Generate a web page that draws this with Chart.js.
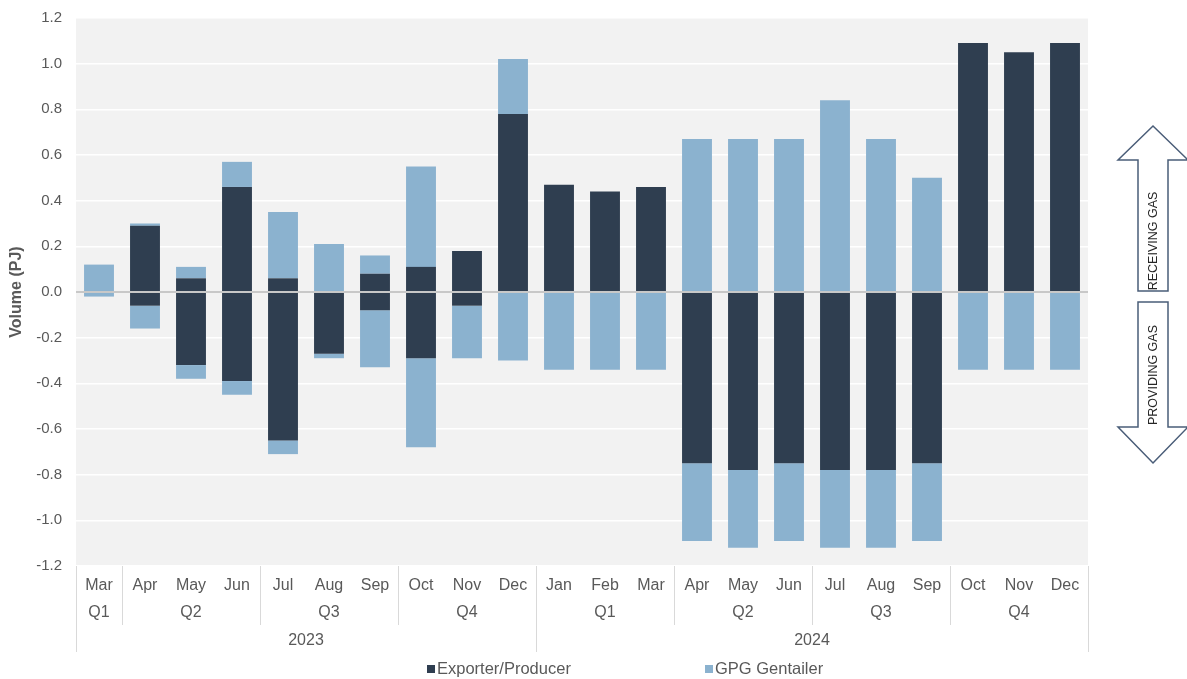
<!DOCTYPE html>
<html lang="en">
<head>
  <meta charset="UTF-8">
  <meta name="viewport" content="width=device-width, initial-scale=1.0">
  <title>Gas Volumes by Month</title>
  <script src="https://cdn.jsdelivr.net/npm/chart.js"></script>
  <style>
    html, body {
      margin: 0;
      padding: 0;
      background: #ffffff;
    }

    .chart-box {
      width: 1187px;
      height: 679px;
    }
  </style>
</head>
<body>
  <div class="chart-box">
    <canvas id="volumeChart"></canvas>
  </div>

  <script>
    // Monthly categories, grouped into quarters and years underneath
    var months = ['Mar', 'Apr', 'May', 'Jun', 'Jul', 'Aug', 'Sep', 'Oct', 'Nov', 'Dec',
                  'Jan', 'Feb', 'Mar', 'Apr', 'May', 'Jun', 'Jul', 'Aug', 'Sep', 'Oct', 'Nov', 'Dec'];
    var quarterLabels = ['Q1', 'Q2', 'Q3', 'Q4', 'Q1', 'Q2', 'Q3', 'Q4'];
    var quarterSpans = [1, 3, 3, 3, 3, 3, 3, 3];
    var yearLabels = ['2023', '2024'];
    var yearSpans = [10, 12];

    // Volumes in PJ: positive = receiving gas, negative = providing gas
    var exporterReceiving = [0, 0.29, 0.06, 0.46, 0.06, 0, 0.08, 0.11, 0.18, 0.78,
                             0.47, 0.44, 0.46, 0, 0, 0, 0, 0, 0, 1.09, 1.05, 1.09];
    var gentailerReceiving = [0.12, 0.01, 0.05, 0.11, 0.29, 0.21, 0.08, 0.44, 0, 0.24,
                              0, 0, 0, 0.67, 0.67, 0.67, 0.84, 0.67, 0.50, 0, 0, 0];
    var exporterProviding = [0, -0.06, -0.32, -0.39, -0.65, -0.27, -0.08, -0.29, -0.06, 0,
                             0, 0, 0, -0.75, -0.78, -0.75, -0.78, -0.78, -0.75, 0, 0, 0];
    var gentailerProviding = [-0.02, -0.10, -0.06, -0.06, -0.06, -0.02, -0.25, -0.39, -0.23, -0.30,
                              -0.34, -0.34, -0.34, -0.34, -0.34, -0.34, -0.34, -0.34, -0.34, -0.34, -0.34, -0.34];

    var darkBlue = '#2f3e50';
    var lightBlue = '#8bb2cf';
    var textGrey = '#595959';
    var narrowFont = "'Liberation Sans Narrow', 'Liberation Sans', Arial, sans-serif";
    var plainFont = "'Liberation Sans', Arial, sans-serif";

    // Grey plot area behind the bars
    var plotBackground = {
      id: 'plotBackground',
      beforeDraw: function(chart) {
        var a = chart.chartArea;
        var ctx = chart.ctx;
        ctx.save();
        ctx.fillStyle = '#f2f2f2';
        ctx.fillRect(a.left, a.top, a.right - a.left, a.bottom - a.top);
        ctx.restore();
      }
    };

    // Quarter and year rows below the month ticks, with separator lines
    function drawGroupRow(chart, labels, spans, textY, lineBottom) {
      var xScale = chart.scales.x;
      var ctx = chart.ctx;
      var half = (xScale.getPixelForValue(1) - xScale.getPixelForValue(0)) / 2;
      var top = chart.chartArea.bottom;
      var start = 0;
      labels.forEach(function(label, i) {
        var end = start + spans[i] - 1;
        var left = xScale.getPixelForValue(start) - half;
        var right = xScale.getPixelForValue(end) + half;
        ctx.fillText(label, (left + right) / 2, textY);
        ctx.beginPath();
        ctx.moveTo(Math.round(left) + 0.5, top);
        ctx.lineTo(Math.round(left) + 0.5, lineBottom);
        ctx.moveTo(Math.round(right) + 0.5, top);
        ctx.lineTo(Math.round(right) + 0.5, lineBottom);
        ctx.stroke();
        start = end + 1;
      });
    }

    var categoryGroups = {
      id: 'categoryGroups',
      afterDraw: function(chart) {
        var ctx = chart.ctx;
        var bottom = chart.chartArea.bottom;
        ctx.save();
        ctx.fillStyle = textGrey;
        ctx.strokeStyle = '#d9d9d9';
        ctx.lineWidth = 1;
        ctx.font = '16px ' + narrowFont;
        ctx.textAlign = 'center';
        ctx.textBaseline = 'middle';
        drawGroupRow(chart, quarterLabels, quarterSpans, bottom + 47, bottom + 59);
        drawGroupRow(chart, yearLabels, yearSpans, bottom + 75, bottom + 86);
        ctx.restore();
      }
    };

    // Legend with one entry per series, drawn under the axis
    var seriesLegend = {
      id: 'seriesLegend',
      afterDraw: function(chart) {
        var ctx = chart.ctx;
        var a = chart.chartArea;
        var items = [
          { label: 'Exporter/Producer', color: darkBlue },
          { label: 'GPG Gentailer', color: lightBlue }
        ];
        var y = chart.height - 10;
        var x = (a.left + a.right) / 2 - 155;
        ctx.save();
        ctx.font = '16.5px ' + narrowFont;
        ctx.textBaseline = 'middle';
        ctx.textAlign = 'left';
        items.forEach(function(item) {
          ctx.fillStyle = item.color;
          ctx.fillRect(x, y - 4, 8, 8);
          ctx.fillStyle = textGrey;
          ctx.fillText(item.label, x + 10, y);
          x += 278;
        });
        ctx.restore();
      }
    };

    // Block arrows to the right of the plot marking the direction of flow
    function blockArrow(ctx, cx, tipY, headY, endY, headHalf, shaftHalf) {
      ctx.beginPath();
      ctx.moveTo(cx, tipY);
      ctx.lineTo(cx + headHalf, headY);
      ctx.lineTo(cx + shaftHalf, headY);
      ctx.lineTo(cx + shaftHalf, endY);
      ctx.lineTo(cx - shaftHalf, endY);
      ctx.lineTo(cx - shaftHalf, headY);
      ctx.lineTo(cx - headHalf, headY);
      ctx.closePath();
      ctx.fill();
      ctx.stroke();
    }

    function verticalText(ctx, text, x, y) {
      ctx.save();
      ctx.translate(x, y);
      ctx.rotate(-Math.PI / 2);
      ctx.fillText(text, 0, 0);
      ctx.restore();
    }

    var flowArrows = {
      id: 'flowArrows',
      afterDraw: function(chart) {
        var ctx = chart.ctx;
        var zero = chart.scales.y.getPixelForValue(0);
        var cx = chart.chartArea.right + 65;
        ctx.save();
        ctx.fillStyle = '#ffffff';
        ctx.strokeStyle = '#4a5d78';
        ctx.lineWidth = 1.5;
        ctx.lineJoin = 'miter';
        blockArrow(ctx, cx, zero - 166, zero - 132, zero - 1, 35, 15);
        blockArrow(ctx, cx, zero + 171, zero + 135, zero + 10, 35, 15);
        ctx.fillStyle = '#262626';
        ctx.font = '12.5px ' + plainFont;
        ctx.textAlign = 'center';
        ctx.textBaseline = 'middle';
        verticalText(ctx, 'RECEIVING GAS', cx + 1, zero - 51);
        verticalText(ctx, 'PROVIDING GAS', cx + 1, zero + 83);
        ctx.restore();
      }
    };

    var ctxVolume = document.getElementById('volumeChart').getContext('2d');
    var volumeChart = new Chart(ctxVolume, {
      type: 'bar',
      data: {
        labels: months,
        datasets: [
          { label: 'Exporter/Producer', data: exporterReceiving, backgroundColor: darkBlue },
          { label: 'GPG Gentailer', data: gentailerReceiving, backgroundColor: lightBlue },
          { label: 'Exporter/Producer', data: exporterProviding, backgroundColor: darkBlue },
          { label: 'GPG Gentailer', data: gentailerProviding, backgroundColor: lightBlue }
        ]
      },
      options: {
        responsive: true,
        maintainAspectRatio: false,
        animation: false,
        barPercentage: 0.65,
        categoryPercentage: 1,
        layout: {
          padding: { top: 18, right: 99, bottom: 0, left: 0 }
        },
        plugins: {
          legend: { display: false },
          tooltip: {
            callbacks: {
              label: function(item) {
                return item.dataset.label + ': ' + item.raw + ' PJ';
              }
            }
          }
        },
        scales: {
          x: {
            stacked: true,
            grid: { display: false, drawTicks: false },
            border: { display: false },
            ticks: {
              color: textGrey,
              font: { family: narrowFont, size: 16 },
              padding: 10,
              maxRotation: 0,
              autoSkip: false
            },
            afterFit: function(scale) {
              scale.height = 113;
            }
          },
          y: {
            stacked: true,
            min: -1.2,
            max: 1.2,
            border: { display: false },
            grid: {
              drawTicks: false,
              color: function(c) {
                return Math.abs(c.tick.value) < 1e-9 ? '#c8c8c8' : '#ffffff';
              },
              lineWidth: function(c) {
                return Math.abs(c.tick.value) < 1e-9 ? 2 : 1.5;
              }
            },
            ticks: {
              stepSize: 0.2,
              color: textGrey,
              font: { family: plainFont, size: 15 },
              padding: 14,
              callback: function(value) {
                return Number(value).toFixed(1);
              }
            },
            title: {
              display: true,
              text: 'Volume (PJ)',
              color: textGrey,
              font: { family: plainFont, size: 16, weight: 'bold' },
              padding: { top: 7, bottom: 0 }
            },
            afterFit: function(scale) {
              // fixed axis width, and no extra room above the top tick
              scale.width = 76;
              scale.paddingTop = 0;
              scale.paddingBottom = 0;
            }
          }
        }
      },
      plugins: [plotBackground, categoryGroups, seriesLegend, flowArrows]
    });
  </script>
</body>
</html>
